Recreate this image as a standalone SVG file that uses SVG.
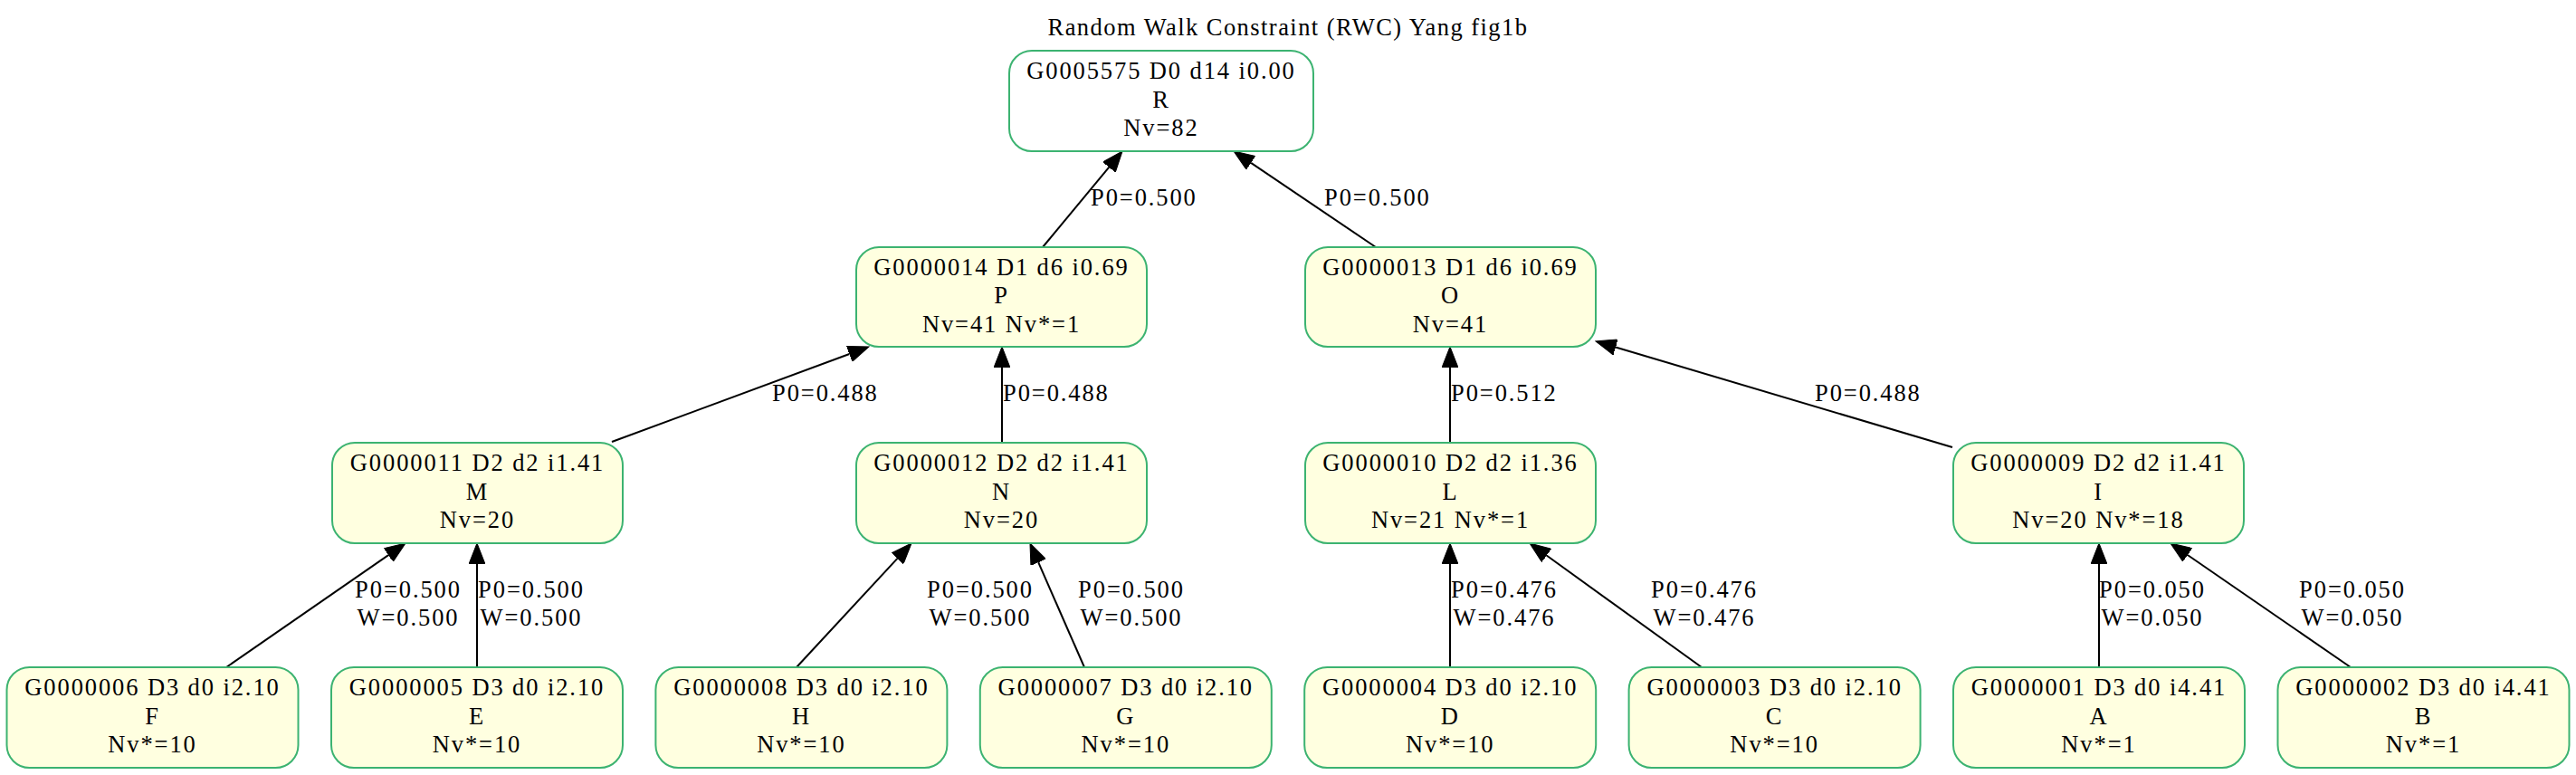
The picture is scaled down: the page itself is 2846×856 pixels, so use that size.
<svg xmlns="http://www.w3.org/2000/svg" width="2846" height="856" viewBox="0 0 2846 856">
<style>
text{font-family:"Liberation Serif","Times New Roman",serif;font-size:26.5px;fill:#000;letter-spacing:1.9px}
.n rect{fill:#ffffe0;stroke:#3cb371;stroke-width:2}
.n text{text-anchor:middle}
.root rect{fill:#ffffff}
.e path{fill:none;stroke:#000;stroke-width:2;marker-end:url(#ah)}
.lm{text-anchor:middle}
.title{text-anchor:middle;letter-spacing:1.45px}
</style>
<defs>
<marker id="ah" markerUnits="userSpaceOnUse" markerWidth="24" markerHeight="18" refX="0" refY="9" orient="auto">
<path d="M0,0 L23,9 L0,18 z" fill="#000" stroke="#000" stroke-width="1"/>
</marker>
</defs>
<rect width="2846" height="856" fill="#fff"/>
<text class="title" x="1423" y="39">Random Walk Constraint (RWC) Yang fig1b</text>

<g id="edges" class="e">
<path d="M1152,273 L1225.3,184.7"/>
<path d="M1520,273 L1382.1,179.9"/>
<path d="M676,488 L938.4,391"/>
<path d="M1107,489 L1107,406"/>
<path d="M1602,489 L1602,406"/>
<path d="M2157,494 L1785,383.5"/>
<path d="M250,737 L429.1,613.1"/>
<path d="M527,737 L527,623"/>
<path d="M880,737 L991.4,616.9"/>
<path d="M1198,737 L1147.2,621.1"/>
<path d="M1602,737 L1602,623"/>
<path d="M1880,737 L1708.7,613.5"/>
<path d="M2319,737 L2319,623"/>
<path d="M2597,737 L2416.9,613"/>
</g>
<g id="edge-labels">
<text x="1205" y="227">P0=0.500</text>
<text x="1463" y="227">P0=0.500</text>
<text x="853" y="443">P0=0.488</text>
<text x="1108" y="443">P0=0.488</text>
<text x="1603" y="443">P0=0.512</text>
<text x="2005" y="443">P0=0.488</text>
<text class="lm" x="451" y="660">P0=0.500</text><text class="lm" x="451" y="691">W=0.500</text>
<text class="lm" x="587" y="660">P0=0.500</text><text class="lm" x="587" y="691">W=0.500</text>
<text class="lm" x="1083" y="660">P0=0.500</text><text class="lm" x="1083" y="691">W=0.500</text>
<text class="lm" x="1250" y="660">P0=0.500</text><text class="lm" x="1250" y="691">W=0.500</text>
<text class="lm" x="1662" y="660">P0=0.476</text><text class="lm" x="1662" y="691">W=0.476</text>
<text class="lm" x="1883" y="660">P0=0.476</text><text class="lm" x="1883" y="691">W=0.476</text>
<text class="lm" x="2378" y="660">P0=0.050</text><text class="lm" x="2378" y="691">W=0.050</text>
<text class="lm" x="2599" y="660">P0=0.050</text><text class="lm" x="2599" y="691">W=0.050</text>
</g>

<g id="R" class="n root"><rect x="1115" y="56" width="336" height="111" rx="25"/><text x="1283" y="87">G0005575 D0 d14 i0.00</text><text x="1283" y="118.5">R</text><text x="1283" y="150">Nv=82</text></g>
<g id="P" class="n"><rect x="946" y="273" width="321" height="110" rx="25"/><text x="1106.5" y="303.5">G0000014 D1 d6 i0.69</text><text x="1106.5" y="335">P</text><text x="1106.5" y="366.5">Nv=41 Nv*=1</text></g>
<g id="O" class="n"><rect x="1442" y="273" width="321" height="110" rx="25"/><text x="1602.5" y="303.5">G0000013 D1 d6 i0.69</text><text x="1602.5" y="335">O</text><text x="1602.5" y="366.5">Nv=41</text></g>
<g id="M" class="n"><rect x="367" y="489" width="321" height="111" rx="25"/><text x="527.5" y="520">G0000011 D2 d2 i1.41</text><text x="527.5" y="551.5">M</text><text x="527.5" y="583">Nv=20</text></g>
<g id="N" class="n"><rect x="946" y="489" width="321" height="111" rx="25"/><text x="1106.5" y="520">G0000012 D2 d2 i1.41</text><text x="1106.5" y="551.5">N</text><text x="1106.5" y="583">Nv=20</text></g>
<g id="L" class="n"><rect x="1442" y="489" width="321" height="111" rx="25"/><text x="1602.5" y="520">G0000010 D2 d2 i1.36</text><text x="1602.5" y="551.5">L</text><text x="1602.5" y="583">Nv=21 Nv*=1</text></g>
<g id="I" class="n"><rect x="2158" y="489" width="321" height="111" rx="25"/><text x="2318.5" y="520">G0000009 D2 d2 i1.41</text><text x="2318.5" y="551.5">I</text><text x="2318.5" y="583">Nv=20 Nv*=18</text></g>
<g id="F" class="n"><rect x="7.5" y="737" width="322" height="111" rx="25"/><text x="168.5" y="768">G0000006 D3 d0 i2.10</text><text x="168.5" y="799.5">F</text><text x="168.5" y="831">Nv*=10</text></g>
<g id="E" class="n"><rect x="366" y="737" width="322" height="111" rx="25"/><text x="527" y="768">G0000005 D3 d0 i2.10</text><text x="527" y="799.5">E</text><text x="527" y="831">Nv*=10</text></g>
<g id="H" class="n"><rect x="724.4" y="737" width="322" height="111" rx="25"/><text x="885.4" y="768">G0000008 D3 d0 i2.10</text><text x="885.4" y="799.5">H</text><text x="885.4" y="831">Nv*=10</text></g>
<g id="G" class="n"><rect x="1082.8" y="737" width="322" height="111" rx="25"/><text x="1243.8" y="768">G0000007 D3 d0 i2.10</text><text x="1243.8" y="799.5">G</text><text x="1243.8" y="831">Nv*=10</text></g>
<g id="D" class="n"><rect x="1441.2" y="737" width="322" height="111" rx="25"/><text x="1602.2" y="768">G0000004 D3 d0 i2.10</text><text x="1602.2" y="799.5">D</text><text x="1602.2" y="831">Nv*=10</text></g>
<g id="C" class="n"><rect x="1799.6" y="737" width="322" height="111" rx="25"/><text x="1960.6" y="768">G0000003 D3 d0 i2.10</text><text x="1960.6" y="799.5">C</text><text x="1960.6" y="831">Nv*=10</text></g>
<g id="A" class="n"><rect x="2158" y="737" width="322" height="111" rx="25"/><text x="2319" y="768">G0000001 D3 d0 i4.41</text><text x="2319" y="799.5">A</text><text x="2319" y="831">Nv*=1</text></g>
<g id="B" class="n"><rect x="2516.5" y="737" width="322" height="111" rx="25"/><text x="2677.5" y="768">G0000002 D3 d0 i4.41</text><text x="2677.5" y="799.5">B</text><text x="2677.5" y="831">Nv*=1</text></g>
</svg>
